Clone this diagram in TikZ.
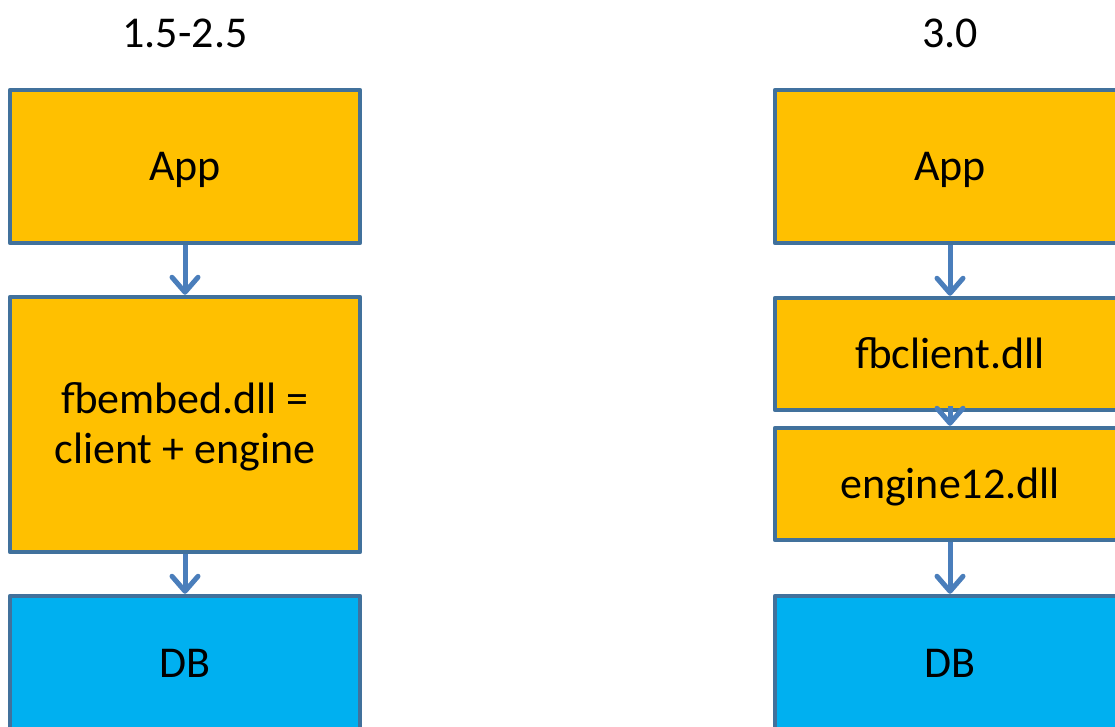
\documentclass[tikz,border=0pt]{standalone}
\usepackage{fontspec}
\setmainfont{Carlito}
\usetikzlibrary{arrows.meta}
\definecolor{boxfill}{HTML}{FFC000}
\definecolor{dbfill}{HTML}{00B0F0}
\definecolor{boxline}{HTML}{41719C}
\definecolor{arrowc}{HTML}{4A7EBB}
\tikzset{
  blk/.style={draw=boxline, line width=4.5pt, line join=round, fill=boxfill,
    minimum width=350pt, inner sep=0pt, align=center,
    font=\fontsize{44}{50}\selectfont},
  oneline/.style={text height=28pt, text depth=0pt},
  dbblk/.style={blk, oneline, fill=dbfill},
  arr/.style={draw=arrowc, line width=5pt,
    -{Straight Barb[length=15pt,width=26pt,round]}},
  ttl/.style={font=\fontsize{44}{50}\selectfont, inner sep=0pt}
}
\begin{document}
\begin{tikzpicture}[x=1pt,y=-1pt]
\useasboundingbox (0,0) rectangle (1115,726);
\clip (0,0) rectangle (1115,726);
\node[ttl] (t1) at (185,33) {1.5-2.5};
\node[ttl] (t2) at (950,33) {3.0};
% left column
\node[blk, oneline, minimum height=153pt] (appL) at (185,166.5) {App};
\node[blk, text height=77pt, text depth=0pt, minimum height=255pt] (emb) at (185,424.5) {fbembed.dll =\\client + engine};
\node[dbblk, minimum height=134pt] (dbL) at (185,663) {DB};
% right column
\node[blk, oneline, minimum height=153pt] (appR) at (950,166.5) {App};
\node[blk, oneline, minimum height=112pt] (cli) at (950,354) {fbclient.dll};
\node[blk, oneline, minimum height=112pt] (eng) at (950,484) {engine12.dll};
\node[dbblk, minimum height=134pt] (dbR) at (950,663) {DB};
% arrows
\draw[arr] (appL) -- (emb);
\draw[arr] (emb) -- (dbL);
\draw[arr] (appR) -- (cli);
\draw[arr] (cli.south) ++(0,-6) coordinate (cs) (cs) -- (eng);
\draw[arr] (eng) -- (dbR);
\end{tikzpicture}
\end{document}
